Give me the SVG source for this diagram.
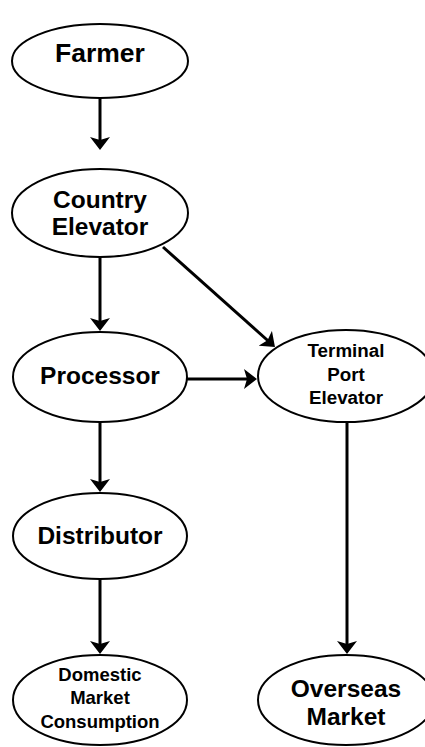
<svg xmlns="http://www.w3.org/2000/svg" width="425" height="747" viewBox="0 0 425 747">
<style>
.node ellipse{fill:#fff;stroke:#000;stroke-width:2}
.node text{font-family:"Liberation Sans",Arial,sans-serif;font-weight:bold;text-anchor:middle;fill:#000}
.big{font-size:24.5px}
.small{font-size:18.8px}
.edge{fill:none;stroke:#000;stroke-width:3;marker-end:url(#ah)}
</style>
<defs>
<marker id="ah" markerUnits="userSpaceOnUse" viewBox="0 0 13 20" markerWidth="13" markerHeight="20" refX="7" refY="10" orient="auto">
<path d="M0,0 L13,10 L0,20 L3,10 z" fill="#000"/>
</marker>
</defs>
<rect width="425" height="747" fill="#fff"/>
<g id="edges">
<path class="edge" d="M100,98 L100,144"/>
<path class="edge" d="M100,257 L100,325"/>
<path class="edge" d="M163,247 L270.5,343"/>
<path class="edge" d="M187,379 L251,379"/>
<path class="edge" d="M100,422 L100,486"/>
<path class="edge" d="M100,579 L100,648"/>
<path class="edge" d="M347,422 L347,648"/>
</g>
<g id="farmer" class="node">
<ellipse cx="100" cy="61" rx="88" ry="37"/>
<text x="100" y="62" style="font-size:26.5px">Farmer</text>
</g>
<g id="country-elevator" class="node">
<ellipse cx="100" cy="213" rx="88" ry="44"/>
<text class="big" x="100" y="208">Country</text>
<text class="big" x="100" y="235">Elevator</text>
</g>
<g id="processor" class="node">
<ellipse cx="100" cy="377" rx="87" ry="45"/>
<text class="big" x="100" y="384">Processor</text>
</g>
<g id="terminal-port-elevator" class="node">
<ellipse cx="346" cy="376" rx="88" ry="46"/>
<text class="small" x="346" y="357">Terminal</text>
<text class="small" x="346" y="381">Port</text>
<text class="small" x="346" y="404">Elevator</text>
</g>
<g id="distributor" class="node">
<ellipse cx="100" cy="536" rx="87" ry="43"/>
<text class="big" x="100" y="544">Distributor</text>
</g>
<g id="domestic-market" class="node">
<ellipse cx="100" cy="700" rx="87" ry="45"/>
<text class="small" x="100" y="681" style="font-size:18.5px">Domestic</text>
<text class="small" x="100" y="704" style="font-size:18.5px">Market</text>
<text class="small" x="100" y="728" style="font-size:18.5px">Consumption</text>
</g>
<g id="overseas-market" class="node">
<ellipse cx="346" cy="700" rx="88" ry="45"/>
<text class="big" x="346" y="697">Overseas</text>
<text class="big" x="346" y="725">Market</text>
</g>
</svg>
